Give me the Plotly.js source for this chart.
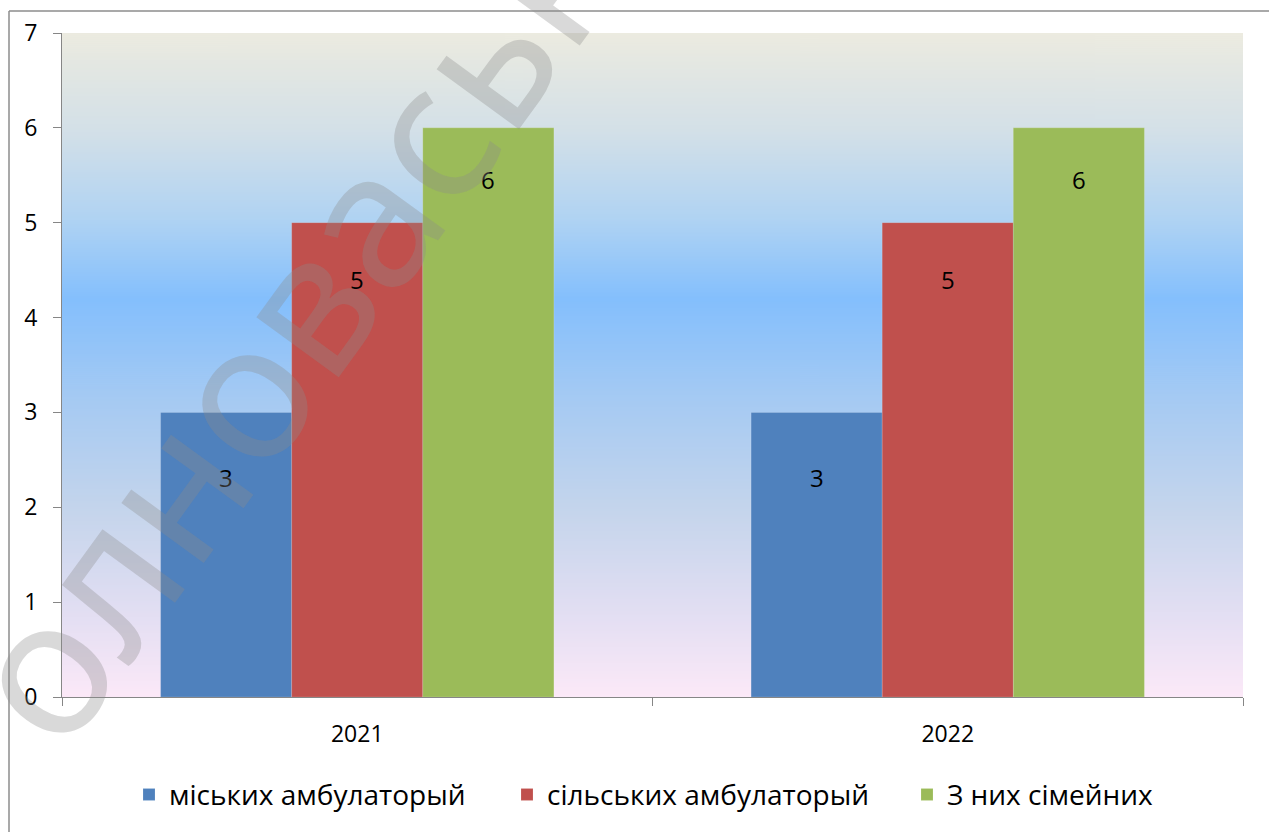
<!DOCTYPE html>
<html>
<head>
<meta charset="utf-8">
<script src="https://cdn.plot.ly/plotly-3.0.1.min.js"></script>
<style>
  html, body { margin: 0; padding: 0; background: #ffffff; }
  #chart { width: 1269px; height: 832px; }
</style>
</head>
<body>
<div id="chart"></div>
<script>
// ---- data ----
const categories = ["2021", "2022"];
const seriesNames = ["міських амбулаторый", "сільських амбулаторый", "З них сімейних"];
const urbanValues = [3, 3];
const ruralValues = [5, 5];
const familyValues = [6, 6];
const yTickValues = [0, 1, 2, 3, 4, 5, 6, 7];
const watermarkText = "олноваськ";

// ---- style ----
const colors = ["#4F81BD", "#C0504D", "#9BBB59"];
const labelYShift = [-65, -57, -52];
const legendLeftPx = [129, 507, 907];
const legendIds = ['legend', 'legend2', 'legend3'];
const W = 1269, H = 832;
const margin = { l: 62, r: 26, t: 33, b: 133 };
const plotW = W - margin.l - margin.r;
const plotH = H - margin.t - margin.b;
const bargap = 0.334;
const barPx = (plotW / categories.length) * (1 - bargap) / 3;

const px2x = px => (px - margin.l) / plotW;
const py2y = py => (H - margin.b - py) / plotH;

// gradient background image built on a canvas
function gradientImage() {
  const c = document.createElement('canvas');
  c.width = 4; c.height = 666;
  const ctx = c.getContext('2d');
  const g = ctx.createLinearGradient(0, 0, 0, c.height);
  g.addColorStop(0.00, '#ECEBE0');
  g.addColorStop(0.15, '#D3E0E8');
  g.addColorStop(0.28, '#B0D3F3');
  g.addColorStop(0.40, '#84BFFD');
  g.addColorStop(0.55, '#A5CAF3');
  g.addColorStop(0.72, '#C5D5EC');
  g.addColorStop(0.88, '#E4DFF3');
  g.addColorStop(1.00, '#FCE9F8');
  ctx.fillStyle = g;
  ctx.fillRect(0, 0, c.width, c.height);
  return c.toDataURL('image/png');
}

const allValues = [urbanValues, ruralValues, familyValues];
const traces = allValues.map((vals, i) => ({
  type: 'bar',
  name: seriesNames[i],
  x: categories,
  y: vals,
  legend: legendIds[i],
  marker: { color: colors[i], line: { color: 'rgba(255,255,255,0.25)', width: 0.6 } },
  hoverinfo: 'none'
}));

const annotations = [];
allValues.forEach((vals, i) => {
  vals.forEach((v, j) => {
    annotations.push({
      xref: 'x', yref: 'y', x: j, y: v,
      xshift: (i - 1) * barPx, yshift: labelYShift[i],
      text: String(v), showarrow: false,
      font: { family: 'Open Sans, sans-serif', size: 24, color: '#000000' },
      xanchor: 'center', yanchor: 'middle'
    });
  });
});

// watermark
annotations.push({
  xref: 'paper', yref: 'paper',
  x: px2x(286), y: py2y(325),
  text: watermarkText, showarrow: false, textangle: -54,
  font: { family: 'Noto Sans, sans-serif', size: 190, color: 'rgba(140,140,140,0.33)' },
  xanchor: 'center', yanchor: 'middle'
});

const layout = {
  width: W, height: H,
  margin: margin,
  paper_bgcolor: '#ffffff',
  plot_bgcolor: 'rgba(0,0,0,0)',
  barmode: 'group',
  bargap: bargap,
  bargroupgap: 0,
  showlegend: true,
  xaxis: {
    type: 'category',
    range: [-0.5, categories.length - 0.5],
    tickson: 'boundaries',
    ticks: 'outside', ticklen: 8, tickcolor: '#868686', tickwidth: 1,
    showline: true, linecolor: '#868686', linewidth: 1,
    showgrid: false, zeroline: false,
    ticklabelstandoff: 16,
    tickfont: { family: 'Open Sans, sans-serif', size: 23, color: '#000000' },
    fixedrange: true
  },
  yaxis: {
    range: [0, 7],
    tickvals: yTickValues,
    ticktext: yTickValues.map(String),
    ticks: 'outside', ticklen: 8, tickcolor: '#868686', tickwidth: 1,
    showline: true, linecolor: '#868686', linewidth: 1,
    showgrid: false, zeroline: false,
    ticklabelstandoff: 11,
    tickfont: { family: 'Open Sans, sans-serif', size: 23, color: '#000000' },
    fixedrange: true
  },
  images: [{
    source: gradientImage(),
    xref: 'paper', yref: 'paper', x: 0, y: 1, sizex: 1, sizey: 1,
    xanchor: 'left', yanchor: 'top', sizing: 'stretch', layer: 'below'
  }],
  shapes: [
    { type: 'line', xref: 'paper', yref: 'paper', x0: px2x(9), x1: px2x(1275), y0: py2y(11), y1: py2y(11),
      line: { color: '#8C8C8C', width: 1.5 } },
    { type: 'line', xref: 'paper', yref: 'paper', x0: px2x(9), x1: px2x(9), y0: py2y(11), y1: py2y(840),
      line: { color: '#8C8C8C', width: 1.5 } }
  ],
  annotations: annotations
};

legendIds.forEach((id, i) => {
  layout[id] = {
    orientation: 'h', x: px2x(legendLeftPx[i]), xanchor: 'left', y: py2y(797), yanchor: 'middle',
    bgcolor: 'rgba(0,0,0,0)', borderwidth: 0,
    font: { family: 'Open Sans, sans-serif', size: 28, color: '#000000' },
    itemclick: false, itemdoubleclick: false
  };
});

Plotly.newPlot('chart', traces, layout, { staticPlot: true, displayModeBar: false });
</script>
</body>
</html>
